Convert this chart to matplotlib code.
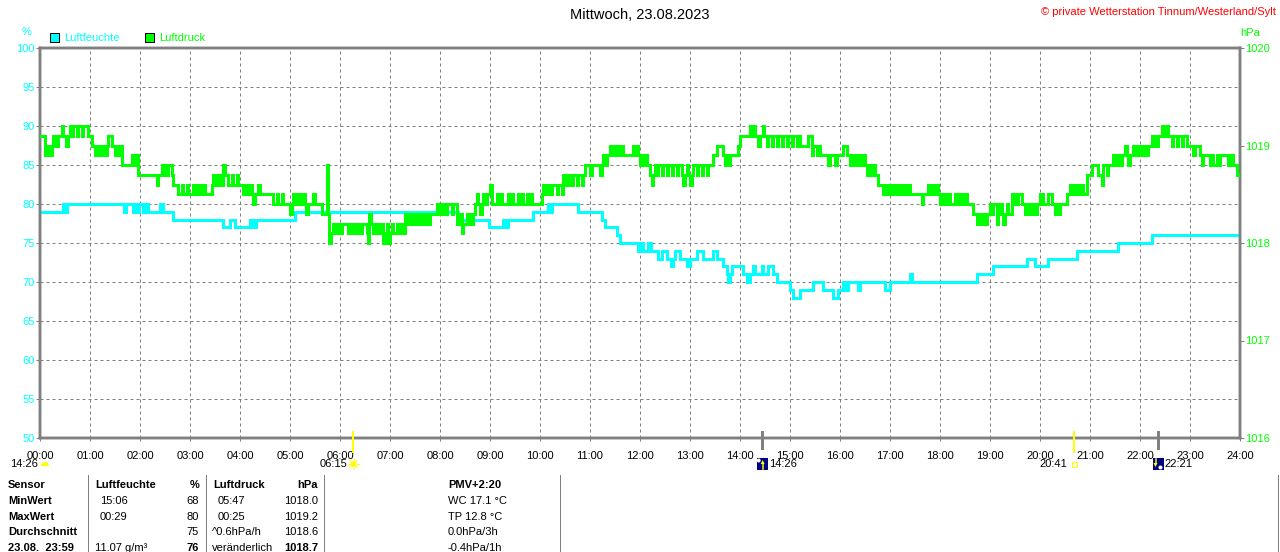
import matplotlib

matplotlib.use("Agg")
import matplotlib.pyplot as plt
from matplotlib.patches import Circle, Polygon, Rectangle, Wedge
from matplotlib.transforms import blended_transform_factory

plt.rcParams["font.family"] = ["Liberation Sans", "DejaVu Sans"]

TITLE = "Mittwoch, 23.08.2023"
COPYRIGHT = "\u00a9 private Wetterstation Tinnum/Westerland/Sylt"
HOUR_LABELS = [f"{h:02d}:00" for h in range(25)]
HUMIDITY_TICKS = [50, 55, 60, 65, 70, 75, 80, 85, 90, 95, 100]
PRESSURE_TICKS = [1016, 1017, 1018, 1019, 1020]

# Humidity steps: minute of day where a new value starts, value in %.
HUMIDITY_MIN = [
    0, 28, 30, 32, 101, 103, 111, 114, 116, 119, 124, 127, 130, 144, 148,
    160, 220, 228, 234, 252, 256, 259, 306, 502, 539, 556, 558, 562, 592,
    609, 611, 614, 645, 674, 678, 692, 696, 718, 721, 724, 730, 733, 742,
    746, 752, 757, 759, 762, 768, 776, 780, 788, 796, 808, 812, 820, 824,
    826, 828, 830, 844, 848, 852, 856, 858, 866, 868, 874, 880, 884, 900,
    904, 912, 928, 940, 952, 958, 964, 966, 970, 981, 984, 1014, 1020,
    1044, 1046, 1124, 1144, 1184, 1194, 1210, 1244, 1294, 1334, 1440,
]
HUMIDITY_PCT = [
    79, 80, 79, 80, 79, 80, 79, 80, 79, 80, 79, 80, 79, 80, 79,
    78, 77, 78, 77, 78, 77, 78, 79, 78, 77, 78, 77, 78, 79,
    80, 79, 80, 79, 78, 77, 76, 75, 74, 75, 74, 75, 74, 73,
    74, 73, 72, 73, 74, 73, 72, 73, 74, 73, 74, 73, 72, 71,
    70, 71, 72, 71, 70, 71, 72, 71, 72, 71, 72, 71, 70, 69,
    68, 69, 70, 69, 68, 69, 70, 69, 70, 69, 70, 69, 70,
    71, 70, 71, 72, 73, 72, 73, 74, 75, 76, 76,
]

# Air pressure steps: (minute of day, hPa).
PRESSURE_STEPS = [
    (0, 1019.1), (6, 1018.9), (10, 1019.0), (12, 1018.9), (14, 1019.0),
    (16, 1019.1), (19, 1019.0), (21, 1019.1), (26, 1019.2), (28, 1019.1),
    (31, 1019.0), (33, 1019.1), (36, 1019.2), (38, 1019.1), (40, 1019.2),
    (44, 1019.1), (46, 1019.2), (50, 1019.1), (52, 1019.2), (58, 1019.1),
    (62, 1019.0), (66, 1018.9), (68, 1019.0), (70, 1018.9), (72, 1019.0),
    (74, 1018.9), (76, 1019.0), (78, 1018.9), (80, 1019.0), (82, 1019.1),
    (86, 1019.0), (90, 1018.9), (92, 1019.0), (94, 1018.9), (96, 1019.0),
    (98, 1018.8), (110, 1018.9), (113, 1018.8), (115, 1018.9), (118, 1018.7),
    (140, 1018.6), (142, 1018.7), (146, 1018.8), (148, 1018.7), (150, 1018.8),
    (152, 1018.7), (154, 1018.8), (158, 1018.7), (160, 1018.6), (166, 1018.5),
    (170, 1018.6), (172, 1018.5), (176, 1018.6), (178, 1018.5), (184, 1018.6),
    (186, 1018.5), (190, 1018.6), (192, 1018.5), (196, 1018.6), (198, 1018.5),
    (206, 1018.6), (208, 1018.7), (210, 1018.6), (214, 1018.7), (216, 1018.6),
    (220, 1018.8), (222, 1018.7), (226, 1018.6), (230, 1018.7), (232, 1018.6),
    (236, 1018.7), (238, 1018.6), (244, 1018.5), (246, 1018.6), (248, 1018.5),
    (252, 1018.6), (254, 1018.5), (256, 1018.4), (258, 1018.5), (262, 1018.6),
    (264, 1018.5), (280, 1018.4), (284, 1018.5), (286, 1018.4), (290, 1018.5),
    (292, 1018.4), (300, 1018.3), (302, 1018.4), (304, 1018.5), (306, 1018.4),
    (308, 1018.5), (312, 1018.4), (316, 1018.5), (318, 1018.4), (319, 1018.3),
    (321, 1018.4), (328, 1018.5), (330, 1018.4), (338, 1018.3), (344, 1018.8),
    (345, 1018.3), (347, 1018.0), (349, 1018.1), (352, 1018.2), (355, 1018.1),
    (357, 1018.2), (360, 1018.1), (362, 1018.2), (370, 1018.1), (372, 1018.2),
    (374, 1018.1), (378, 1018.2), (380, 1018.1), (382, 1018.2), (384, 1018.1),
    (386, 1018.2), (392, 1018.1), (394, 1018.0), (395, 1018.3), (397, 1018.2),
    (400, 1018.1), (402, 1018.2), (404, 1018.1), (408, 1018.2), (412, 1018.0),
    (414, 1018.1), (416, 1018.2), (418, 1018.0), (420, 1018.1), (422, 1018.2),
    (424, 1018.1), (428, 1018.2), (430, 1018.1), (432, 1018.2), (436, 1018.1),
    (438, 1018.3), (442, 1018.2), (444, 1018.3), (448, 1018.2), (450, 1018.3),
    (454, 1018.2), (456, 1018.3), (460, 1018.2), (462, 1018.3), (466, 1018.2),
    (468, 1018.3), (476, 1018.4), (480, 1018.3), (482, 1018.4), (486, 1018.3),
    (488, 1018.4), (494, 1018.3), (496, 1018.4), (500, 1018.2), (504, 1018.3),
    (506, 1018.1), (508, 1018.2), (512, 1018.3), (514, 1018.2), (516, 1018.3),
    (518, 1018.2), (520, 1018.3), (522, 1018.4), (524, 1018.5), (526, 1018.4),
    (528, 1018.3), (530, 1018.4), (532, 1018.5), (534, 1018.4), (536, 1018.5),
    (540, 1018.6), (542, 1018.4), (548, 1018.5), (550, 1018.4), (552, 1018.5),
    (554, 1018.4), (562, 1018.5), (564, 1018.4), (566, 1018.5), (568, 1018.4),
    (574, 1018.5), (576, 1018.4), (578, 1018.5), (580, 1018.4), (584, 1018.5),
    (586, 1018.4), (588, 1018.5), (590, 1018.4), (602, 1018.5), (604, 1018.6),
    (606, 1018.5), (610, 1018.6), (612, 1018.5), (614, 1018.6), (620, 1018.5),
    (622, 1018.6), (626, 1018.5), (628, 1018.7), (630, 1018.6), (634, 1018.7),
    (636, 1018.6), (640, 1018.7), (644, 1018.6), (646, 1018.7), (650, 1018.6),
    (652, 1018.7), (654, 1018.8), (660, 1018.7), (662, 1018.8), (672, 1018.7),
    (674, 1018.8), (676, 1018.9), (678, 1018.8), (680, 1018.9), (684, 1019.0),
    (686, 1018.9), (688, 1019.0), (690, 1018.9), (694, 1019.0), (696, 1018.9),
    (698, 1019.0), (700, 1018.9), (712, 1019.0), (714, 1018.9), (716, 1019.0),
    (718, 1018.9), (720, 1018.8), (722, 1018.9), (724, 1018.8), (726, 1018.9),
    (728, 1018.8), (732, 1018.7), (734, 1018.6), (736, 1018.7), (738, 1018.8),
    (740, 1018.7), (742, 1018.8), (746, 1018.7), (748, 1018.8), (752, 1018.7),
    (754, 1018.8), (758, 1018.7), (760, 1018.8), (764, 1018.7), (766, 1018.8),
    (770, 1018.7), (772, 1018.6), (774, 1018.7), (776, 1018.8), (778, 1018.7),
    (780, 1018.6), (782, 1018.7), (784, 1018.8), (788, 1018.7), (790, 1018.8),
    (794, 1018.7), (796, 1018.8), (800, 1018.7), (802, 1018.8), (808, 1018.9),
    (812, 1019.0), (820, 1018.9), (822, 1018.8), (824, 1018.9), (826, 1018.8),
    (828, 1018.9), (838, 1019.0), (840, 1019.1), (852, 1019.2), (854, 1019.1),
    (856, 1019.2), (858, 1019.1), (862, 1019.0), (864, 1019.1), (868, 1019.2),
    (869, 1019.1), (872, 1019.0), (874, 1019.1), (878, 1019.0), (880, 1019.1),
    (884, 1019.0), (886, 1019.1), (890, 1019.0), (892, 1019.1), (896, 1019.0),
    (898, 1019.1), (902, 1019.0), (904, 1019.1), (908, 1019.0), (910, 1019.1),
    (912, 1019.0), (922, 1019.1), (926, 1018.9), (928, 1019.0), (932, 1018.9),
    (934, 1019.0), (936, 1018.9), (946, 1018.8), (948, 1018.9), (954, 1018.8),
    (956, 1018.9), (964, 1019.0), (968, 1018.9), (972, 1018.8), (974, 1018.9),
    (978, 1018.8), (980, 1018.9), (984, 1018.8), (986, 1018.9), (990, 1018.8),
    (992, 1018.7), (996, 1018.8), (998, 1018.7), (1000, 1018.8), (1002, 1018.7),
    (1006, 1018.6), (1012, 1018.5), (1014, 1018.6), (1016, 1018.5), (1018, 1018.6),
    (1020, 1018.5), (1022, 1018.6), (1024, 1018.5), (1026, 1018.6), (1028, 1018.5),
    (1030, 1018.6), (1032, 1018.5), (1034, 1018.6), (1036, 1018.5), (1038, 1018.6),
    (1040, 1018.5), (1042, 1018.6), (1044, 1018.5), (1058, 1018.4), (1060, 1018.5),
    (1066, 1018.6), (1068, 1018.5), (1070, 1018.6), (1074, 1018.5), (1076, 1018.6),
    (1078, 1018.5), (1080, 1018.4), (1084, 1018.5), (1086, 1018.4), (1090, 1018.5),
    (1092, 1018.4), (1098, 1018.5), (1100, 1018.4), (1104, 1018.5), (1106, 1018.4),
    (1110, 1018.5), (1112, 1018.4), (1120, 1018.3), (1124, 1018.2), (1126, 1018.3),
    (1128, 1018.2), (1130, 1018.3), (1134, 1018.2), (1136, 1018.3), (1140, 1018.4),
    (1142, 1018.3), (1144, 1018.4), (1148, 1018.2), (1150, 1018.3), (1152, 1018.4),
    (1154, 1018.3), (1156, 1018.2), (1158, 1018.3), (1160, 1018.4), (1162, 1018.3),
    (1166, 1018.5), (1168, 1018.4), (1170, 1018.5), (1172, 1018.4), (1174, 1018.5),
    (1178, 1018.4), (1182, 1018.3), (1184, 1018.4), (1188, 1018.3), (1190, 1018.4),
    (1194, 1018.3), (1196, 1018.4), (1200, 1018.5), (1204, 1018.4), (1210, 1018.5),
    (1214, 1018.4), (1218, 1018.3), (1220, 1018.4), (1222, 1018.3), (1224, 1018.4),
    (1232, 1018.5), (1236, 1018.6), (1240, 1018.5), (1242, 1018.6), (1246, 1018.5),
    (1248, 1018.6), (1252, 1018.5), (1256, 1018.7), (1262, 1018.8), (1270, 1018.7),
    (1274, 1018.6), (1276, 1018.8), (1280, 1018.7), (1282, 1018.8), (1288, 1018.9),
    (1290, 1018.8), (1294, 1018.9), (1296, 1018.8), (1298, 1018.9), (1302, 1019.0),
    (1304, 1018.9), (1306, 1018.8), (1308, 1018.9), (1312, 1019.0), (1314, 1018.9),
    (1318, 1019.0), (1320, 1018.9), (1324, 1019.0), (1326, 1018.9), (1330, 1019.0),
    (1334, 1019.1), (1336, 1019.0), (1338, 1019.1), (1340, 1019.0), (1342, 1019.1),
    (1346, 1019.2), (1350, 1019.1), (1352, 1019.2), (1354, 1019.1), (1358, 1019.0),
    (1360, 1019.1), (1364, 1019.0), (1366, 1019.1), (1370, 1019.0), (1372, 1019.1),
    (1376, 1019.0), (1384, 1018.9), (1386, 1019.0), (1392, 1018.9), (1394, 1018.8),
    (1396, 1018.9), (1404, 1018.8), (1406, 1018.9), (1408, 1018.8), (1412, 1018.9),
    (1414, 1018.8), (1416, 1018.9), (1426, 1018.8), (1428, 1018.9), (1432, 1018.8),
    (1436, 1018.7), (1440, 1018.7),
]

# Sun and moon events below the time axis (label, minute of day).
SUN_EVENTS = [("06:15", 375), ("20:41", 1241)]
MOON_EVENTS = [("14:26", 866), ("22:21", 1341)]
MOON_PREVIOUS = "14:26"

# Summary table below the chart.
ROW_LABELS = ["Sensor", "MinWert", "MaxWert", "Durchschnitt", "23.08.  23:59"]
HUM_TIMES = ["Luftfeuchte", "15:06", "00:29", "", "11.07 g/m\u00b3"]
HUM_VALUES = ["%", "68", "80", "75", "76"]
PRESS_TIMES = ["Luftdruck", "05:47", "00:25", "^0.6hPa/h", "ver\u00e4nderlich"]
PRESS_VALUES = ["hPa", "1018.0", "1019.2", "1018.6", "1018.7"]
EXTRA_INFO = ["PMV+2:20", "WC 17.1 \u00b0C", "TP 12.8 \u00b0C", "0.0hPa/3h", "-0.4hPa/1h"]

CYAN = "#00ffff"
GREEN = "#00ff00"
GRAY = "#808080"
YELLOW = "#ffff00"
NAVY = "#000080"

W, H = 1280, 552
PX = 0.72  # one pixel in points at dpi 100

fig = plt.figure(figsize=(W / 100, H / 100), dpi=100)
fig.patch.set_facecolor("white")

ax = fig.add_axes([40 / W, 114 / H, 1200 / W, 390 / H])
ax.set_xlim(0, 1440)
ax.set_ylim(50, 100)
ax.set_xticks([h * 60 for h in range(25)])
ax.set_xticklabels(HOUR_LABELS, fontsize=8, color="black")
ax.set_yticks(HUMIDITY_TICKS)
ax.set_yticklabels([str(v) for v in HUMIDITY_TICKS], fontsize=8, color=CYAN)
ax.grid(True, color=GRAY, linewidth=PX, linestyle=(0, (3, 3)))
ax.tick_params(axis="y", length=4 * PX, width=PX, color=GRAY, pad=1)
ax.tick_params(axis="x", length=3 * PX, width=PX, color=GRAY, pad=7)
for spine in ax.spines.values():
    spine.set_color(GRAY)
    spine.set_linewidth(2.5 * PX)

ax.step(HUMIDITY_MIN, HUMIDITY_PCT, where="post", color=CYAN,
        linewidth=3 * PX, solid_joinstyle="miter", zorder=3)

ax2 = ax.twinx()
ax2.set_ylim(1016, 1020)
ax2.set_yticks(PRESSURE_TICKS)
ax2.set_yticklabels([str(v) for v in PRESSURE_TICKS], fontsize=8, color=GREEN)
ax2.tick_params(axis="y", length=4 * PX, width=PX, color=GRAY, pad=1)
for spine in ax2.spines.values():
    spine.set_color(GRAY)
    spine.set_linewidth(2.5 * PX)
p_min = [m for m, _ in PRESSURE_STEPS]
p_hpa = [v for _, v in PRESSURE_STEPS]
ax2.step(p_min, p_hpa, where="post", color=GREEN,
         linewidth=3 * PX, solid_joinstyle="miter", zorder=3)

# Pixel overlay for texts, legend and icons.
ov = fig.add_axes([0, 0, 1, 1])
ov.set_xlim(0, W)
ov.set_ylim(H, 0)
ov.axis("off")


def time_px(minute):
    disp = ax.transData.transform((minute, 50))
    return ov.transData.inverted().transform(disp)[0]


ov.text(640, 15, TITLE, fontsize=10.5, ha="center", va="center", color="black")
ov.text(1276, 12, COPYRIGHT, fontsize=8, ha="right", va="center", color="red")
ov.text(27, 32, "%", fontsize=8, ha="center", va="center", color=CYAN)
ov.text(1250, 33, "hPa", fontsize=8, ha="center", va="center", color=GREEN)

ov.add_patch(Rectangle((50, 33), 9, 9, facecolor=CYAN, edgecolor="black", linewidth=PX))
ov.text(64, 38, "Luftfeuchte", fontsize=8, ha="left", va="center", color=CYAN)
ov.add_patch(Rectangle((145, 33), 9, 9, facecolor=GREEN, edgecolor="black", linewidth=PX))
ov.text(159, 38, "Luftdruck", fontsize=8, ha="left", va="center", color=GREEN)

# Sun / moon marks on the time axis.
mark = blended_transform_factory(ax.transData, ov.transData)
for _, minute in SUN_EVENTS:
    ov.plot([minute, minute], [432, 452], transform=mark, color=YELLOW,
            linewidth=2 * PX, clip_on=False)
for _, minute in MOON_EVENTS:
    ov.plot([minute, minute], [432, 448], transform=mark, color=GRAY,
            linewidth=3 * PX, clip_on=False)

# previous moon event at the left edge
ov.text(10, 464, MOON_PREVIOUS, fontsize=8, ha="left", va="center")
ov.add_patch(Wedge((45, 466), 4, 180, 360, facecolor=YELLOW, edgecolor="none"))

# sunrise
sx = time_px(SUN_EVENTS[0][1])
ov.text(sx - 5, 464, SUN_EVENTS[0][0], fontsize=8, ha="right", va="center")
ov.add_patch(Circle((sx + 1, 464), 3, facecolor=YELLOW, edgecolor="none"))
for dx, dy in [(5, 0), (-5, 0), (0, 5), (0, -5), (3.5, 3.5), (-3.5, 3.5), (3.5, -3.5), (-3.5, -3.5)]:
    ov.plot([sx + 1 + dx * 0.7, sx + 1 + dx], [464 + dy * 0.7, 464 + dy],
            color=YELLOW, linewidth=PX)

# sunset
tx = time_px(SUN_EVENTS[1][1])
ov.text(tx - 7, 464, SUN_EVENTS[1][0], fontsize=8, ha="right", va="center")
ov.add_patch(Rectangle((tx - 2, 462), 5, 5, facecolor="none", edgecolor=YELLOW, linewidth=PX))

# moonrise / moonset icons
for i, (label, minute) in enumerate(MOON_EVENTS):
    mx = time_px(minute)
    ov.add_patch(Rectangle((mx - 5, 458), 11, 12, facecolor=NAVY, edgecolor="none"))
    if i == 0:
        ov.add_patch(Circle((mx - 3, 460.5), 2, facecolor="white", edgecolor="none"))
        ov.add_patch(Polygon([(mx - 1, 464), (mx + 3, 464), (mx + 1, 460)], facecolor=YELLOW))
        ov.plot([mx + 1, mx + 1], [464, 469], color=YELLOW, linewidth=1.5 * PX)
    else:
        ov.add_patch(Circle((mx + 3, 467.5), 2, facecolor="white", edgecolor="none"))
        ov.plot([mx - 2, mx - 2], [459, 463], color=YELLOW, linewidth=1.5 * PX)
        ov.add_patch(Polygon([(mx - 4, 463), (mx, 463), (mx - 2, 467)], facecolor=YELLOW))
    ov.text(mx + 7, 464, label, fontsize=8, ha="left", va="center")

# Summary table
for x in [88, 206, 324, 560, 1278]:
    ov.plot([x, x], [475, 552], color=GRAY, linewidth=PX)

row_y = [485, 501, 517, 532, 548]
for i, y in enumerate(row_y):
    head = i == 0
    last = i == len(row_y) - 1
    ov.text(8, y, ROW_LABELS[i], fontsize=8, fontweight="bold", ha="left", va="center")
    ov.text(95 if head or last else 100, y, HUM_TIMES[i], fontsize=8,
            fontweight="bold" if head else "normal", ha="left", va="center")
    ov.text(199, y, HUM_VALUES[i], fontsize=8,
            fontweight="bold" if head or last else "normal", ha="right", va="center")
    ov.text(213 if head else (218 if i in (1, 2) else 212), y, PRESS_TIMES[i], fontsize=8,
            fontweight="bold" if head else "normal", ha="left", va="center")
    ov.text(318, y, PRESS_VALUES[i], fontsize=8,
            fontweight="bold" if head or last else "normal", ha="right", va="center")
    ov.text(448, y, EXTRA_INFO[i], fontsize=8,
            fontweight="bold" if head else "normal", ha="left", va="center")

fig.savefig("out.png", dpi=100, facecolor="white")
